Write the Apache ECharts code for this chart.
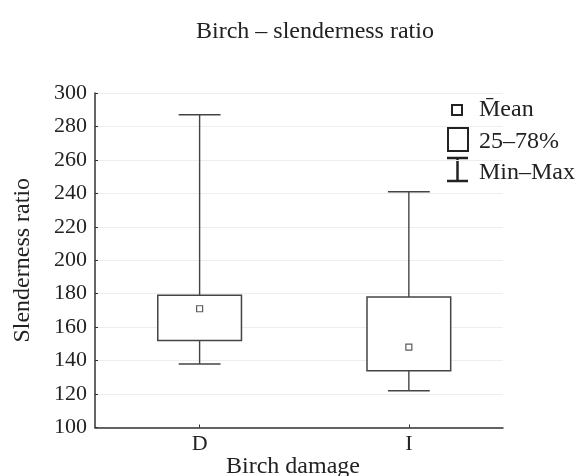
<!DOCTYPE html>
<html>
<head>
<meta charset="utf-8">
<script src="https://cdn.jsdelivr.net/npm/echarts@6/dist/echarts.min.js"></script>
<style>
  html, body { margin: 0; padding: 0; background: #fff; }
  #chart { width: 587px; height: 476px; }
</style>
</head>
<body>
<div id="chart"></div>
<script>
// groups and their statistics
var categories = ['D', 'I'];
var mins = [138, 122];
var q1s = [152, 134];
var q3s = [179, 178];
var maxs = [287, 241];
var means = [171, 148];
var yTicks = { min: 100, max: 300, step: 20 };

var FONT = '"Liberation Serif", serif';
var INK = '#222';
var LINE = '#444';

// group i sits at i + 0.5 on the x value axis
var boxData = categories.map(function (c, i) {
    return [i + 0.5, mins[i], q1s[i], q3s[i], maxs[i]];
});
var meanData = categories.map(function (c, i) {
    return [i + 0.5, means[i]];
});

function renderBox(params, api) {
    var x = api.value(0);
    var pMin = api.coord([x, api.value(1)]);
    var pQ1 = api.coord([x, api.value(2)]);
    var pQ3 = api.coord([x, api.value(3)]);
    var pMax = api.coord([x, api.value(4)]);
    var boxW = api.size([0.4, 0])[0];
    var capW = api.size([0.2, 0])[0];
    var cx = pMin[0];
    var style = { stroke: LINE, lineWidth: 1.4, fill: 'none' };
    return {
        type: 'group',
        children: [
            { type: 'line', shape: { x1: cx, y1: pMax[1], x2: cx, y2: pQ3[1] }, style: style },
            { type: 'line', shape: { x1: cx, y1: pQ1[1], x2: cx, y2: pMin[1] }, style: style },
            { type: 'line', shape: { x1: cx - capW / 2, y1: pMax[1], x2: cx + capW / 2, y2: pMax[1] }, style: style },
            { type: 'line', shape: { x1: cx - capW / 2, y1: pMin[1], x2: cx + capW / 2, y2: pMin[1] }, style: style },
            { type: 'rect', shape: { x: cx - boxW / 2, y: pQ3[1], width: boxW, height: pQ1[1] - pQ3[1] },
              style: { stroke: LINE, lineWidth: 1.5, fill: '#fff' } }
        ]
    };
}

var chart = echarts.init(document.getElementById('chart'));
chart.setOption({
    animation: false,
    backgroundColor: '#fff',
    textStyle: { fontFamily: FONT, color: INK },
    title: {
        text: 'Birch \u2013 slenderness ratio',
        left: 196,
        top: 20,
        padding: 0,
        textStyle: { fontFamily: FONT, fontSize: 24, fontWeight: 'normal', color: INK }
    },
    grid: { left: 95, top: 93, width: 408, height: 334.5, outerBoundsMode: 'none', containLabel: false },
    xAxis: {
        type: 'value',
        min: 0,
        max: 1.95,
        name: 'Birch damage',
        nameLocation: 'middle',
        nameMoveOverlap: false,
        nameGap: 27,
        nameTextStyle: { fontFamily: FONT, fontSize: 24, color: INK, padding: [0, 12, 0, 0] },
        axisLine: { lineStyle: { color: '#333', width: 1.5 } },
        axisTick: { inside: true, length: 3, customValues: [0.5, 1.5], lineStyle: { color: '#333' } },
        axisLabel: {
            customValues: [0.5, 1.5],
            margin: 6,
            fontFamily: FONT, fontSize: 22, color: INK,
            formatter: function (v) { return categories[Math.round(v - 0.5)]; }
        },
        splitLine: { show: false }
    },
    yAxis: {
        type: 'value',
        min: yTicks.min,
        max: yTicks.max,
        interval: yTicks.step,
        name: 'Slenderness ratio',
        nameLocation: 'middle',
        nameMoveOverlap: false,
        nameGap: 60,
        nameTextStyle: { fontFamily: FONT, fontSize: 24, color: INK },
        axisLine: { show: true, lineStyle: { color: '#333', width: 1.5 } },
        axisTick: { show: true, inside: true, length: 3, lineStyle: { color: '#333' } },
        axisLabel: { margin: 8, fontFamily: FONT, fontSize: 22, color: INK },
        splitLine: { show: true, lineStyle: { color: '#eeeeee', width: 1 } }
    },
    series: [
        {
            name: '25\u201378%',
            type: 'custom',
            renderItem: renderBox,
            encode: { x: 0, y: [1, 2, 3, 4] },
            data: boxData,
            z: 2
        },
        {
            name: 'Mean',
            type: 'scatter',
            symbol: 'rect',
            symbolSize: 6,
            itemStyle: { color: '#fff', borderColor: '#333', borderWidth: 1.2 },
            data: meanData,
            z: 3
        }
    ],
    // legend drawn by hand: three different key shapes
    graphic: [
        { type: 'rect', shape: { x: 452, y: 105, width: 10, height: 10 },
          style: { fill: '#fff', stroke: INK, lineWidth: 2 } },
        { type: 'text', x: 479, y: 110, style: { text: 'M\u0304ean', font: '24px ' + FONT, fill: INK, textVerticalAlign: 'middle' } },
        { type: 'rect', shape: { x: 448, y: 128, width: 20, height: 23 },
          style: { fill: '#fff', stroke: INK, lineWidth: 2 } },
        { type: 'text', x: 479, y: 142, style: { text: '25\u201378%', font: '24px ' + FONT, fill: INK, textVerticalAlign: 'middle' } },
        { type: 'polyline', shape: { points: [[447, 158], [468, 158]] }, style: { stroke: INK, lineWidth: 2.5 } },
        { type: 'polyline', shape: { points: [[457.5, 158], [457.5, 181]] }, style: { stroke: INK, lineWidth: 2.5 } },
        { type: 'polyline', shape: { points: [[447, 181], [468, 181]] }, style: { stroke: INK, lineWidth: 2.5 } },
        { type: 'text', x: 479, y: 173, style: { text: 'Min\u2013Max', font: '24px ' + FONT, fill: INK, textVerticalAlign: 'middle' } }
    ]
});
</script>
</body>
</html>
